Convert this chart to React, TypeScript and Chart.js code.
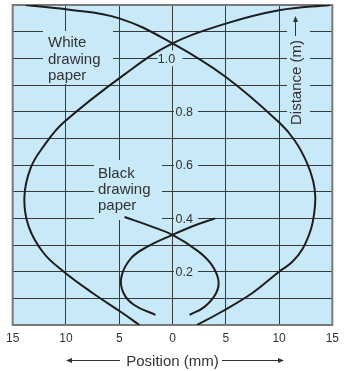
import React, { useEffect, useRef } from "react";
import { Chart, registerables } from "chart.js";

Chart.register(...registerables);

// ---- data ----
const xTickValues = [-15, -10, -5, 0, 5, 10, 15];
const yTickValues = [0.2, 0.4, 0.6, 0.8, 1.0];
const yTickLabels = ["0.2", "0.4", "0.6", "0.8", "1.0"];

// White drawing paper: branch starting top-left, bulging right
const whiteAX = [-13.8, -10, -5, 0, 5, 10, 11.5, 12.6, 13.2, 13.4, 13.3, 13.0, 12.2, 11.2, 10, 7.5, 4.4, 2.3];
const whiteAY = [1.2, 1.184, 1.15, 1.056, 0.93, 0.76, 0.69, 0.61, 0.54, 0.48, 0.42, 0.36, 0.285, 0.235, 0.2, 0.12, 0.045, 0];
// White drawing paper: branch starting top-right, bulging left
const whiteBX = [14.8, 10, 5, 0, -4.5, -10.2, -12.1, -13.3, -13.9, -13.5, -12.1, -10.2, -7.5, -4.7, -3.1];
const whiteBY = [1.2, 1.18, 1.13, 1.056, 0.94, 0.76, 0.67, 0.59, 0.48, 0.37, 0.27, 0.2, 0.12, 0.045, 0];
// Black drawing paper
const blackCX = [-4.5, -2, 0, 2.3, 3.6, 4.3, 4.1, 3.0, 1.6];
const blackCY = [0.405, 0.37, 0.338, 0.28, 0.23, 0.17, 0.12, 0.068, 0.038];
const blackDX = [4.0, 2, 0, -2.3, -3.9, -4.8, -4.6, -3.6, -1.6];
const blackDY = [0.4, 0.372, 0.338, 0.295, 0.25, 0.18, 0.12, 0.075, 0.038];

const whiteLabel = ["White", "drawing", "paper"];
const blackLabel = ["Black", "drawing", "paper"];
const xTitle = "Position (mm)";
const yTitle = "Distance (m)";

const BG = "rgb(200,233,248)";
const GRID = "#3a3a3a";
const TEXT = "#333333";
const FONT = "'Liberation Sans', Arial, Helvetica, sans-serif";

const zip = (xs: number[], ys: number[]) => xs.map((x, i) => ({ x, y: ys[i] }));

const arrowHead = (ctx: CanvasRenderingContext2D, x: number, y: number, dx: number, dy: number) => {
  const len = 6, hw = 2.5;
  const px = -dy, py = dx;
  ctx.beginPath();
  ctx.moveTo(x, y);
  ctx.lineTo(x - dx * len + px * hw, y - dy * len + py * hw);
  ctx.lineTo(x - dx * len - px * hw, y - dy * len - py * hw);
  ctx.closePath();
  ctx.fill();
};

const decorPlugin = {
  id: "decor",
  beforeDraw(chart: any) {
    const { ctx, chartArea: a } = chart;
    ctx.save();
    ctx.fillStyle = BG;
    ctx.fillRect(a.left, a.top, a.right - a.left, a.bottom - a.top);
    ctx.restore();
  },
  beforeDatasetsDraw(chart: any) {
    const { ctx, chartArea: a, scales } = chart;
    const xs = scales.x, ys = scales.y;
    ctx.save();
    // gaps behind labels
    ctx.fillStyle = BG;
    ctx.fillRect(43, 31, 70, 53);
    ctx.fillRect(94, 160, 68, 60);
    ctx.fillRect(287, 12, 23, 118);
    const x0 = xs.getPixelForValue(0);
    yTickValues.forEach((v, i) => {
      const py = ys.getPixelForValue(v);
      if (yTickLabels[i] === "1.0") {
        ctx.fillRect(x0 - 15, py - 8, 25, 16);
      } else {
        ctx.fillRect(x0 + 1.5, py - 7, 24, 14);
      }
    });
    // border
    ctx.strokeStyle = "#7a7a7a";
    ctx.lineWidth = 2;
    ctx.strokeRect(a.left, a.top, a.right - a.left, a.bottom - a.top);

    // labels
    ctx.fillStyle = TEXT;
    ctx.font = `15px ${FONT}`;
    ctx.textAlign = "left";
    ctx.textBaseline = "alphabetic";
    whiteLabel.forEach((t, i) => ctx.fillText(t, 48, 47 + i * 16.5));
    blackLabel.forEach((t, i) => ctx.fillText(t, 98, 178 + i * 16));

    // y tick labels along x = 0
    ctx.font = `12.5px ${FONT}`;
    ctx.textBaseline = "middle";
    yTickValues.forEach((v, i) => {
      const py = ys.getPixelForValue(v);
      if (yTickLabels[i] === "1.0") {
        ctx.textAlign = "center";
        ctx.fillText(yTickLabels[i], x0 - 6, py + 1);
      } else {
        ctx.textAlign = "left";
        ctx.fillText(yTickLabels[i], x0 + 3, py + 1);
      }
    });

    // vertical axis title
    ctx.save();
    ctx.translate(301, 125);
    ctx.rotate(-Math.PI / 2);
    ctx.font = `15px ${FONT}`;
    ctx.textAlign = "left";
    ctx.textBaseline = "alphabetic";
    ctx.fillText(yTitle, 0, 0);
    ctx.restore();
    ctx.strokeStyle = TEXT;
    ctx.lineWidth = 1;
    ctx.beginPath();
    ctx.moveTo(295.5, 36);
    ctx.lineTo(295.5, 20);
    ctx.stroke();
    arrowHead(ctx, 295.5, 16, 0, -1);
    ctx.restore();
  },
  afterDraw(chart: any) {
    const { ctx, scales } = chart;
    const cx = scales.x.getPixelForValue(0);
    ctx.save();
    ctx.fillStyle = TEXT;
    ctx.strokeStyle = TEXT;
    ctx.font = `15px ${FONT}`;
    ctx.textAlign = "center";
    ctx.textBaseline = "alphabetic";
    ctx.fillText(xTitle, cx, 366);
    ctx.lineWidth = 1;
    ctx.beginPath();
    ctx.moveTo(120, 360.5);
    ctx.lineTo(71, 360.5);
    ctx.moveTo(222, 360.5);
    ctx.lineTo(279, 360.5);
    ctx.stroke();
    arrowHead(ctx, 66, 360.5, -1, 0);
    arrowHead(ctx, 284, 360.5, 1, 0);
    ctx.restore();
  },
};

export default function App() {
  const ref = useRef<HTMLCanvasElement | null>(null);

  useEffect(() => {
    document.body.style.margin = "0";
    if (!ref.current) return;
    const lineStyle = {
      borderColor: "#1e1e1e",
      borderWidth: 2,
      pointRadius: 0,
      showLine: true,
      fill: false,
      tension: 0.4,
    };
    const chart = new Chart(ref.current, {
      type: "scatter",
      data: {
        datasets: [
          { ...lineStyle, label: "White A", data: zip(whiteAX, whiteAY) },
          { ...lineStyle, label: "White B", data: zip(whiteBX, whiteBY) },
          { ...lineStyle, label: "Black C", data: zip(blackCX, blackCY) },
          { ...lineStyle, label: "Black D", data: zip(blackDX, blackDY) },
        ],
      },
      options: {
        animation: false,
        responsive: false,
        devicePixelRatio: 1,
        layout: { padding: { left: 10, right: 11, top: 5, bottom: 0 } },
        plugins: { legend: { display: false }, tooltip: { enabled: false } },
        scales: {
          x: {
            type: "linear",
            min: -15,
            max: 15,
            afterBuildTicks: (s: any) => {
              s.ticks = xTickValues.map((v) => ({ value: v }));
            },
            afterFit: (s: any) => {
              s.height = 46;
            },
            ticks: {
              callback: (v: any) => String(Math.abs(Number(v))),
              font: { family: FONT, size: 12 },
              color: TEXT,
              padding: 6,
              maxRotation: 0,
              autoSkip: false,
            },
            grid: { color: GRID, lineWidth: 1, drawTicks: false },
            border: { display: false },
          },
          y: {
            type: "linear",
            min: 0,
            max: 1.2,
            afterBuildTicks: (s: any) => {
              const t = [];
              for (let i = 0; i <= 12; i++) t.push({ value: i / 10 });
              s.ticks = t;
            },
            afterFit: (s: any) => {
              s.width = 0;
            },
            ticks: { display: false },
            grid: { color: GRID, lineWidth: 1, drawTicks: false },
            border: { display: false },
          },
        },
      },
      plugins: [decorPlugin],
    } as any);
    return () => chart.destroy();
  }, []);

  return (
    <div style={{ position: "absolute", left: 0, top: 0, width: 345, height: 371, background: "#fff" }}>
      <canvas ref={ref} width={345} height={371} />
    </div>
  );
}
